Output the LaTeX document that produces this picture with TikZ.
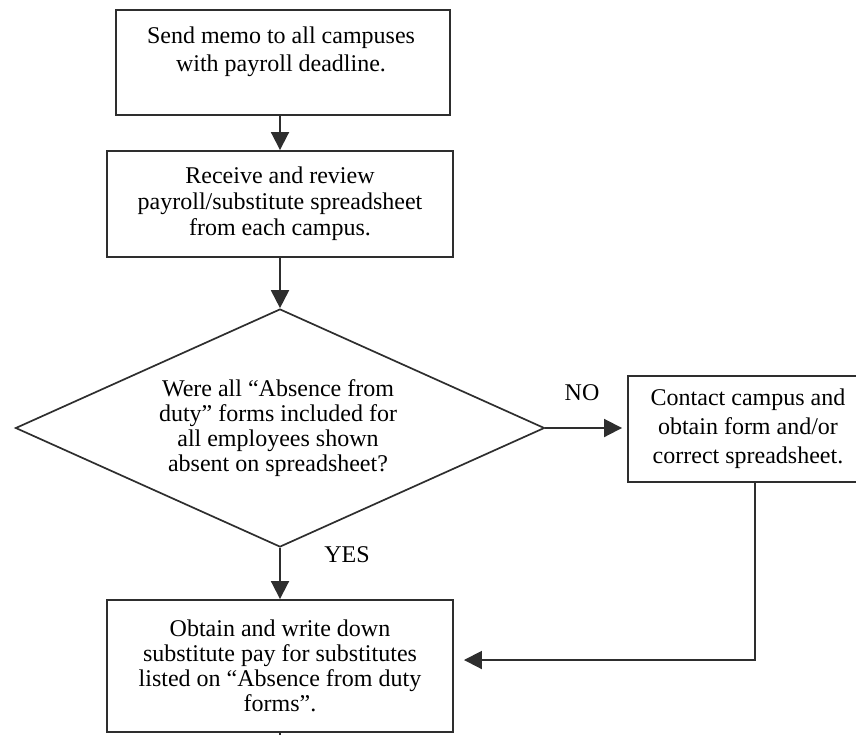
\documentclass[tikz,border=0pt]{standalone}
\usepackage{fontspec}
\setmainfont{Liberation Serif}
\usetikzlibrary{shapes.geometric,arrows.meta}

\begin{document}
\begin{tikzpicture}[x=1pt,y=-1pt,
  line width=1.9pt, draw=black!82,
  stepbox/.style={draw=black!82, rectangle, inner sep=0pt},
  decision/.style={draw=black!82, diamond, inner sep=0pt, line width=1.7pt},
  txt/.style={align=center, inner sep=0pt, text=black},
  lbl/.style={inner sep=0pt, text=black, font=\fontsize{24}{25}\selectfont},
  flow/.style={draw=black!82, -{Triangle[length=18pt,width=18pt]}}]
\useasboundingbox (0,0) rectangle (856,734);

% process boxes
\node[stepbox, minimum width=334pt, minimum height=105pt] (memo) at (283,62.5) {};
\node[txt, font=\fontsize{24}{28}\selectfont] (memotext) at (281,52)
  {Send memo to all campuses\\with payroll deadline.};

\node[stepbox, minimum width=346pt, minimum height=106pt,
      txt, font=\fontsize{24}{26}\selectfont] (review) at (280,204)
  {Receive and review\\payroll/substitute spreadsheet\\from each campus.};

% decision
\node[decision, minimum width=529pt, minimum height=238pt] (check) at (280,428) {};
\node[txt, font=\fontsize{24}{25}\selectfont] (checktext) at (278,428)
  {Were all “Absence from\\duty” forms included for\\all employees shown\\absent on spreadsheet?};

\node[stepbox, minimum width=240pt, minimum height=106pt,
      txt, font=\fontsize{24}{29}\selectfont] (contact) at (748,429)
  {Contact campus and\\obtain form and/or\\correct spreadsheet.};

\node[stepbox, minimum width=346pt, minimum height=132pt,
      txt, font=\fontsize{24}{25}\selectfont] (paysub) at (280,666)
  {Obtain and write down\\substitute pay for substitutes\\listed on “Absence from duty\\forms”.};

% branch labels
\node[lbl] (no) at (582,393) {NO};
\node[lbl] (yes) at (347,555) {YES};

% connectors
\draw[flow] (review.north |- memo.south) -- (review.north);
\draw[flow] (review.south) -- (check.north);
\draw[flow] (check.east) -- ([xshift=-5pt]contact.west |- check.east);
\draw[flow] (check.south) -- (paysub.north);
\draw[flow] ([xshift=7pt]contact.south) |- ([xshift=10pt,yshift=6pt]paysub.east);
\coordinate (next) at (280,745);
\draw (paysub.south) -- (next);
\end{tikzpicture}
\end{document}
